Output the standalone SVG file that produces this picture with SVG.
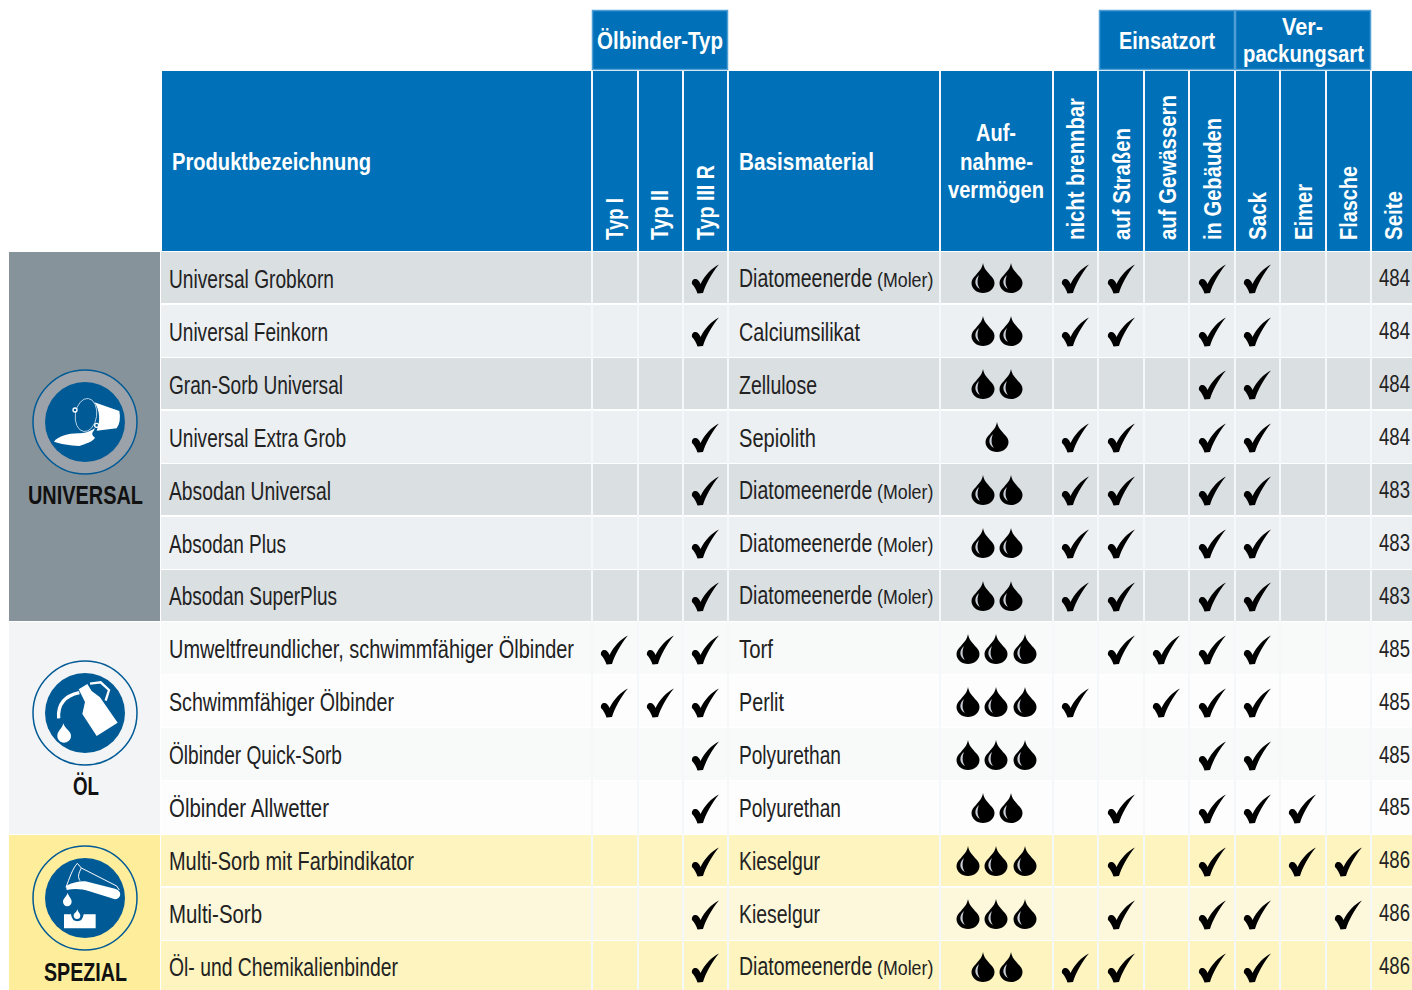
<svg xmlns="http://www.w3.org/2000/svg" width="1412" height="990" viewBox="0 0 1412 990">
<style>
text{font-family:"Liberation Sans",Arial,sans-serif}
.t{font-size:25px;fill:#222}
.n{font-size:24px;fill:#222}
.m{font-size:20px;fill:#222}
.h{font-size:24px;font-weight:700;fill:#fff}
.v{font-size:23px;font-weight:700;fill:#fff}
.l{font-size:25px;font-weight:700;fill:#111}
.a{fill:#dadfe2}.b{fill:#edf0f2}.c{fill:#f8fafa}.d{fill:#fdfdfd}.e{fill:#fdf4bf}.f{fill:#fdf8dc}
.hb{fill:#0071b8}
.top{fill:#0071b8;stroke:#4f9fd6;stroke-width:1.5}
.ring{stroke:#005a96;stroke-width:1.5}
.ic{fill:#005a96}
.w{fill:#fff}
.ws{fill:none;stroke:#fff}
</style>
<defs>
<path id="chk" fill="#000" d="M14,-14.500C6.500,-11 -.5,-3 -4.500,5C-5.500,2 -7.500,0 -9.500,0C-12,0 -13.500,2 -13,5C-10.500,7.500 -8.500,11 -7.500,14.500L-2,14C.5,6 6.500,-6 14,-14.500Z"/>
<g id="drp"><path fill="#000" d="M0,-15C1,-9 4,-7 7,-3C10,0 11.500,2 11.500,5C11.500,11 6,15 0,15C-6,15 -11.500,11 -11.500,5C-11.500,2 -10,0 -7,-3C-4,-7 -1,-9 0,-15Z"/><path fill="#c9ced6" d="M-4,-3C-9,1 -9,8 -3,11C-6,7 -6,2 -4,-3Z"/></g>
<text id="dia" class="t" transform="scale(.78,1)">Diatomeenerde</text>
<text id="mol" class="m" transform="scale(.89,1)">(Moler)</text>
<text id="s483" class="n" transform="scale(.775,1)">483</text>
<text id="s484" class="n" transform="scale(.775,1)">484</text>
<text id="s485" class="n" transform="scale(.775,1)">485</text>
<text id="s486" class="n" transform="scale(.775,1)">486</text>
</defs>

<g id="header">
<rect class="hb" x="162" y="71" width="1250" height="180"/>
<rect class="top" x="592.500" y="10.500" width="135" height="59"/>
<rect class="top" x="1099.500" y="10.500" width="135" height="59"/>
<rect class="top" x="1235.500" y="10.500" width="135" height="59"/>
<text class="h" x="597" y="49" textLength="126" lengthAdjust="spacingAndGlyphs">Ölbinder-Typ</text>
<text class="h" x="1119" y="49" textLength="96" lengthAdjust="spacingAndGlyphs">Einsatzort</text>
<text class="h" x="1282" y="35" textLength="41" lengthAdjust="spacingAndGlyphs">Ver-</text>
<text class="h" x="1243" y="62" textLength="121" lengthAdjust="spacingAndGlyphs">packungsart</text>
<text class="h" x="172" y="170" textLength="199" lengthAdjust="spacingAndGlyphs">Produktbezeichnung</text>
<text class="h" x="739" y="170" textLength="135" lengthAdjust="spacingAndGlyphs">Basismaterial</text>
<text class="h" x="976" y="141" textLength="40" lengthAdjust="spacingAndGlyphs">Auf-</text>
<text class="h" x="960" y="170" textLength="73" lengthAdjust="spacingAndGlyphs">nahme-</text>
<text class="h" x="948" y="198" textLength="96" lengthAdjust="spacingAndGlyphs">vermögen</text>
<text class="v" transform="translate(623,240) rotate(-90)" textLength="42" lengthAdjust="spacingAndGlyphs">Typ I</text>
<text class="v" transform="translate(668,240) rotate(-90)" textLength="50" lengthAdjust="spacingAndGlyphs">Typ II</text>
<text class="v" transform="translate(714,240) rotate(-90)" textLength="75" lengthAdjust="spacingAndGlyphs">Typ III R</text>
<text class="v" transform="translate(1084,240) rotate(-90)" textLength="142" lengthAdjust="spacingAndGlyphs">nicht brennbar</text>
<text class="v" transform="translate(1130,240) rotate(-90)" textLength="112" lengthAdjust="spacingAndGlyphs">auf Straßen</text>
<text class="v" transform="translate(1176,240) rotate(-90)" textLength="145" lengthAdjust="spacingAndGlyphs">auf Gewässern</text>
<text class="v" transform="translate(1221,240) rotate(-90)" textLength="122" lengthAdjust="spacingAndGlyphs">in Gebäuden</text>
<text class="v" transform="translate(1266,240) rotate(-90)" textLength="48" lengthAdjust="spacingAndGlyphs">Sack</text>
<text class="v" transform="translate(1312,240) rotate(-90)" textLength="56" lengthAdjust="spacingAndGlyphs">Eimer</text>
<text class="v" transform="translate(1357,240) rotate(-90)" textLength="74" lengthAdjust="spacingAndGlyphs">Flasche</text>
<text class="v" transform="translate(1402,240) rotate(-90)" textLength="49" lengthAdjust="spacingAndGlyphs">Seite</text>
</g>

<g id="row-backgrounds">
<rect class="a" x="161" y="252" width="1251" height="51"/>
<rect class="b" x="161" y="305" width="1251" height="52"/>
<rect class="a" x="161" y="358" width="1251" height="51"/>
<rect class="b" x="161" y="411" width="1251" height="52"/>
<rect class="a" x="161" y="464" width="1251" height="51"/>
<rect class="b" x="161" y="517" width="1251" height="52"/>
<rect class="a" x="161" y="570" width="1251" height="51"/>
<rect class="c" x="161" y="622" width="1251" height="52"/>
<rect class="d" x="161" y="675" width="1251" height="52"/>
<rect class="c" x="161" y="728" width="1251" height="52"/>
<rect class="d" x="161" y="781" width="1251" height="53"/>
<rect class="e" x="161" y="835" width="1251" height="51"/>
<rect class="f" x="161" y="888" width="1251" height="52"/>
<rect class="e" x="161" y="941" width="1251" height="49"/>
</g>
<path id="grid" fill="none" stroke="#f4f8fb" stroke-width="2" d="M592,71V990M638,71V990M683,71V990M728,71V990M940,71V990M1053,71V990M1098,71V990M1144,71V990M1189,71V990M1235,71V990M1280,71V990M1326,71V990M1371,71V990"/>

<g id="group-universal">
<rect x="9" y="252" width="151" height="369" fill="#87939a"/>
<circle class="ring" cx="85" cy="422" r="52" fill="#9ba2a9"/>
<circle class="ic" cx="85" cy="422" r="40"/>
<g transform="translate(0,340) scale(.33333)">
<path class="w" d="M283,187L358,213Q364,245 350,265L290,272C302,245 300,210 283,187Z"/>
<ellipse class="ws" stroke-width="2" cx="258" cy="225" rx="32" ry="50" transform="rotate(8 258 225)"/>
<circle class="ic" stroke="#fff" stroke-width="4" cx="225" cy="210" r="6"/>
<circle class="ic" stroke="#fff" stroke-width="4" cx="290" cy="256" r="6"/>
<path class="w" d="M162,305C172,290 205,280 235,280C250,280 268,276 285,264L281,273C274,280 276,286 285,293C278,306 255,311 238,318C210,316 180,312 162,305Z"/>
</g>
<text class="l" x="28" y="504" textLength="115" lengthAdjust="spacingAndGlyphs">UNIVERSAL</text>
</g>

<g id="group-oel">
<rect x="9" y="622" width="151" height="212" fill="#f3f4f6"/>
<circle class="ring" cx="85" cy="713" r="52" fill="#f3f4f6"/>
<circle class="ic" cx="85" cy="713" r="40"/>
<g transform="translate(0,640) scale(.33333)">
<path class="w" d="M236,148L262,132L275,153L300,172L353,248L290,288L247,222L255,186Z"/>
<path class="ws" stroke-width="7" d="M270,131L302,127L327,150L317,182"/>
<path class="ws" stroke-width="10" d="M238,158C205,165 172,185 176,235"/>
<path class="w" d="M190,250C195,268 213,272 213,288C213,300 203,308 192,308C180,308 172,298 172,288C172,272 186,268 190,250Z"/>
</g>
<text class="l" x="73" y="795" textLength="26" lengthAdjust="spacingAndGlyphs">ÖL</text>
</g>

<g id="group-spezial">
<rect x="9" y="835" width="151" height="155" fill="#feee9b"/>
<circle class="ring" cx="85" cy="898" r="52" fill="#feee9b"/>
<circle class="ic" cx="85" cy="898" r="40"/>
<g transform="translate(0,640) scale(.33333)">
<path class="w" d="M198,738C220,726 245,722 262,725L345,746C366,751 366,775 345,778L268,754C245,746 222,745 200,750Z"/>
<path class="ws" stroke-width="3" d="M232,670C218,685 208,715 198,742M232,670L244,684C236,700 232,710 240,722M244,684L350,738L358,750"/>
<path class="w" d="M203,758C206,770 215,775 215,785C215,793 209,799 202,799C195,799 189,793 189,785C189,775 200,770 203,758Z"/>
<path class="w" d="M192,823H213Q216,844 232,844Q248,844 251,823H287V865H192Z"/>
<path class="w" d="M232,808C234,817 241,820 241,827C241,833 237,837 231,837C226,837 221,833 221,827C221,820 230,817 232,808Z"/>
</g>
<text class="l" x="44" y="981" textLength="83" lengthAdjust="spacingAndGlyphs">SPEZIAL</text>
</g>

<g id="row-1"><text class="t" x="169" y="288" textLength="165" lengthAdjust="spacingAndGlyphs">Universal Grobkorn</text><use href="#dia" x="739" y="287"/><use href="#mol" x="877" y="287"/><use href="#s484" x="1379" y="286"/><use href="#drp" x="983" y="278"/><use href="#drp" x="1011" y="278"/><use href="#chk" x="705" y="279"/><use href="#chk" x="1075" y="279"/><use href="#chk" x="1121" y="279"/><use href="#chk" x="1212" y="279"/><use href="#chk" x="1257" y="279"/></g>
<g id="row-2"><text class="t" x="169" y="341" textLength="159" lengthAdjust="spacingAndGlyphs">Universal Feinkorn</text><text class="t" x="739" y="341" textLength="121" lengthAdjust="spacingAndGlyphs">Calciumsilikat</text><use href="#s484" x="1379" y="339"/><use href="#drp" x="983" y="331"/><use href="#drp" x="1011" y="331"/><use href="#chk" x="705" y="332"/><use href="#chk" x="1075" y="332"/><use href="#chk" x="1121" y="332"/><use href="#chk" x="1212" y="332"/><use href="#chk" x="1257" y="332"/></g>
<g id="row-3"><text class="t" x="169" y="394" textLength="174" lengthAdjust="spacingAndGlyphs">Gran-Sorb Universal</text><text class="t" x="739" y="394" textLength="78" lengthAdjust="spacingAndGlyphs">Zellulose</text><use href="#s484" x="1379" y="392"/><use href="#drp" x="983" y="384"/><use href="#drp" x="1011" y="384"/><use href="#chk" x="1212" y="385"/><use href="#chk" x="1257" y="385"/></g>
<g id="row-4"><text class="t" x="169" y="447" textLength="177" lengthAdjust="spacingAndGlyphs">Universal Extra Grob</text><text class="t" x="739" y="447" textLength="77" lengthAdjust="spacingAndGlyphs">Sepiolith</text><use href="#s484" x="1379" y="445"/><use href="#drp" x="997" y="437"/><use href="#chk" x="705" y="438"/><use href="#chk" x="1075" y="438"/><use href="#chk" x="1121" y="438"/><use href="#chk" x="1212" y="438"/><use href="#chk" x="1257" y="438"/></g>
<g id="row-5"><text class="t" x="169" y="500" textLength="162" lengthAdjust="spacingAndGlyphs">Absodan Universal</text><use href="#dia" x="739" y="499"/><use href="#mol" x="877" y="499"/><use href="#s483" x="1379" y="498"/><use href="#drp" x="983" y="490"/><use href="#drp" x="1011" y="490"/><use href="#chk" x="705" y="491"/><use href="#chk" x="1075" y="491"/><use href="#chk" x="1121" y="491"/><use href="#chk" x="1212" y="491"/><use href="#chk" x="1257" y="491"/></g>
<g id="row-6"><text class="t" x="169" y="553" textLength="117" lengthAdjust="spacingAndGlyphs">Absodan Plus</text><use href="#dia" x="739" y="552"/><use href="#mol" x="877" y="552"/><use href="#s483" x="1379" y="551"/><use href="#drp" x="983" y="543"/><use href="#drp" x="1011" y="543"/><use href="#chk" x="705" y="544"/><use href="#chk" x="1075" y="544"/><use href="#chk" x="1121" y="544"/><use href="#chk" x="1212" y="544"/><use href="#chk" x="1257" y="544"/></g>
<g id="row-7"><text class="t" x="169" y="605" textLength="168" lengthAdjust="spacingAndGlyphs">Absodan SuperPlus</text><use href="#dia" x="739" y="604"/><use href="#mol" x="877" y="604"/><use href="#s483" x="1379" y="604"/><use href="#drp" x="983" y="596"/><use href="#drp" x="1011" y="596"/><use href="#chk" x="705" y="597"/><use href="#chk" x="1075" y="597"/><use href="#chk" x="1121" y="597"/><use href="#chk" x="1212" y="597"/><use href="#chk" x="1257" y="597"/></g>
<g id="row-8"><text class="t" x="169" y="658" textLength="405" lengthAdjust="spacingAndGlyphs">Umweltfreundlicher, schwimmfähiger Ölbinder</text><text class="t" x="739" y="658" textLength="34" lengthAdjust="spacingAndGlyphs">Torf</text><use href="#s485" x="1379" y="657"/><use href="#drp" x="968" y="649"/><use href="#drp" x="996" y="649"/><use href="#drp" x="1025" y="649"/><use href="#chk" x="614" y="650"/><use href="#chk" x="660" y="650"/><use href="#chk" x="705" y="650"/><use href="#chk" x="1121" y="650"/><use href="#chk" x="1166" y="650"/><use href="#chk" x="1212" y="650"/><use href="#chk" x="1257" y="650"/></g>
<g id="row-9"><text class="t" x="169" y="711" textLength="225" lengthAdjust="spacingAndGlyphs">Schwimmfähiger Ölbinder</text><text class="t" x="739" y="711" textLength="45" lengthAdjust="spacingAndGlyphs">Perlit</text><use href="#s485" x="1379" y="710"/><use href="#drp" x="968" y="702"/><use href="#drp" x="996" y="702"/><use href="#drp" x="1025" y="702"/><use href="#chk" x="614" y="703"/><use href="#chk" x="660" y="703"/><use href="#chk" x="705" y="703"/><use href="#chk" x="1075" y="703"/><use href="#chk" x="1166" y="703"/><use href="#chk" x="1212" y="703"/><use href="#chk" x="1257" y="703"/></g>
<g id="row-10"><text class="t" x="169" y="764" textLength="173" lengthAdjust="spacingAndGlyphs">Ölbinder Quick-Sorb</text><text class="t" x="739" y="764" textLength="102" lengthAdjust="spacingAndGlyphs">Polyurethan</text><use href="#s485" x="1379" y="763"/><use href="#drp" x="968" y="755"/><use href="#drp" x="996" y="755"/><use href="#drp" x="1025" y="755"/><use href="#chk" x="705" y="756"/><use href="#chk" x="1212" y="756"/><use href="#chk" x="1257" y="756"/></g>
<g id="row-11"><text class="t" x="169" y="817" textLength="160" lengthAdjust="spacingAndGlyphs">Ölbinder Allwetter</text><text class="t" x="739" y="817" textLength="102" lengthAdjust="spacingAndGlyphs">Polyurethan</text><use href="#s485" x="1379" y="815"/><use href="#drp" x="983" y="808"/><use href="#drp" x="1011" y="808"/><use href="#chk" x="705" y="809"/><use href="#chk" x="1121" y="809"/><use href="#chk" x="1212" y="809"/><use href="#chk" x="1257" y="809"/><use href="#chk" x="1302" y="809"/></g>
<g id="row-12"><text class="t" x="169" y="870" textLength="245" lengthAdjust="spacingAndGlyphs">Multi-Sorb mit Farbindikator</text><text class="t" x="739" y="870" textLength="81" lengthAdjust="spacingAndGlyphs">Kieselgur</text><use href="#s486" x="1379" y="868"/><use href="#drp" x="968" y="861"/><use href="#drp" x="996" y="861"/><use href="#drp" x="1025" y="861"/><use href="#chk" x="705" y="862"/><use href="#chk" x="1121" y="862"/><use href="#chk" x="1212" y="862"/><use href="#chk" x="1302" y="862"/><use href="#chk" x="1348" y="862"/></g>
<g id="row-13"><text class="t" x="169" y="923" textLength="93" lengthAdjust="spacingAndGlyphs">Multi-Sorb</text><text class="t" x="739" y="923" textLength="81" lengthAdjust="spacingAndGlyphs">Kieselgur</text><use href="#s486" x="1379" y="921"/><use href="#drp" x="968" y="914"/><use href="#drp" x="996" y="914"/><use href="#drp" x="1025" y="914"/><use href="#chk" x="705" y="915"/><use href="#chk" x="1121" y="915"/><use href="#chk" x="1212" y="915"/><use href="#chk" x="1257" y="915"/><use href="#chk" x="1348" y="915"/></g>
<g id="row-14"><text class="t" x="169" y="976" textLength="229" lengthAdjust="spacingAndGlyphs">Öl- und Chemikalienbinder</text><use href="#dia" x="739" y="975"/><use href="#mol" x="877" y="975"/><use href="#s486" x="1379" y="974"/><use href="#drp" x="983" y="967"/><use href="#drp" x="1011" y="967"/><use href="#chk" x="705" y="968"/><use href="#chk" x="1075" y="968"/><use href="#chk" x="1121" y="968"/><use href="#chk" x="1212" y="968"/><use href="#chk" x="1257" y="968"/></g>
</svg>
